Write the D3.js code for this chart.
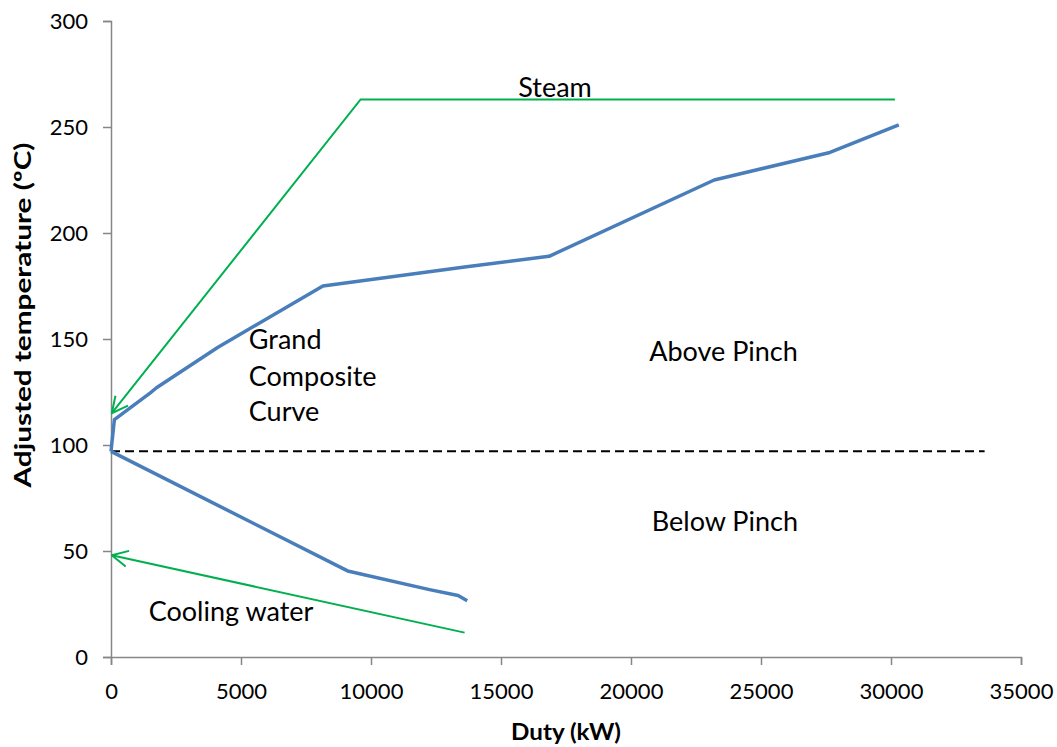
<!DOCTYPE html>
<html><head><meta charset="utf-8">
<script src="https://cdn.jsdelivr.net/npm/d3@7"></script>
<style>body{margin:0;background:#fff}</style>
</head><body><svg id="c" width="1057" height="747"></svg>
<script>
// Grand composite curve above pinch [duty kW, adjusted temperature °C]
const gccAbove = [[0,97],[130,112],[1500,124.5],[1750,127],[4100,146],[8150,175],[13600,184],[16850,189],[23200,225],[27650,238],[30300,251]];
// Grand composite curve below pinch
const gccBelow = [[0,97],[9100,40.6],[12250,31.8],[13350,29],[13700,26.5]];
// Steam utility line (arrow pointing to the curve)
const steam = [[30150,263],[9600,263],[30,115]];
// Cooling water utility line
const cooling = [[13600,11.5],[30,48]];
const pinchT = 97;
const pinchEnd = 33600;
const xTicks = [0,5000,10000,15000,20000,25000,30000,35000];
const yTicks = [0,50,100,150,200,250,300];
const labels = [
  {t:"Steam", x:17080, y:264.2, anchor:"middle"},
  {t:"Grand", x:5300, y:145.3},
  {t:"Composite", x:5300, y:127.8},
  {t:"Curve", x:5300, y:111.3},
  {t:"Above Pinch", x:20700, y:139.6},
  {t:"Below Pinch", x:20800, y:59.4},
  {t:"Cooling water", x:1450, y:17}
];

const svg = d3.select("#c");
const x = d3.scaleLinear().domain([0,35000]).range([111,1021]);
const y = d3.scaleLinear().domain([0,300]).range([657,21]);
const font = "Lato, 'Open Sans', sans-serif";
const axisCol = "#868686";

// axes
const xa = svg.append("g").attr("transform","translate(0,657)").call(d3.axisBottom(x).tickValues(xTicks).tickSize(8).tickPadding(18).tickFormat(d3.format("d")));
const ya = svg.append("g").attr("transform","translate(111,0)").call(d3.axisLeft(y).tickValues(yTicks).tickSize(8).tickPadding(15));
[xa,ya].forEach(a=>{
  a.select(".domain").attr("stroke",axisCol).attr("stroke-width",1.5);
  a.selectAll(".tick line").attr("stroke",axisCol).attr("stroke-width",1.5);
  a.selectAll(".tick text").attr("fill","#000").style("font-family",font).style("font-size","22px");
});

// pinch line
svg.append("line").attr("x1",x(0)).attr("x2",x(pinchEnd)).attr("y1",y(pinchT)).attr("y2",y(pinchT))
  .attr("stroke","#000").attr("stroke-width",2).attr("stroke-dasharray","9,5");

const line = d3.line().x(d=>x(d[0])).y(d=>y(d[1]));
[gccAbove,gccBelow].forEach(d=>{
  svg.append("path").attr("d",line(d)).attr("fill","none").attr("stroke","#4a7ebb").attr("stroke-width",3.5).attr("stroke-linejoin","round");
});

// open arrow marker
svg.append("defs").append("marker").attr("id","arr").attr("viewBox","0 0 20 20").attr("refX",19).attr("refY",10)
  .attr("markerWidth",20).attr("markerHeight",20).attr("markerUnits","userSpaceOnUse").attr("orient","auto")
  .append("path").attr("d","M3,2 L19,10 L3,18").attr("fill","none").attr("stroke","#00b050").attr("stroke-width",2);

[steam,cooling].forEach(d=>{
  svg.append("path").attr("d",line(d)).attr("fill","none").attr("stroke","#00b050").attr("stroke-width",2)
    .attr("marker-end","url(#arr)");
});

labels.forEach(l=>{
  svg.append("text").attr("x",x(l.x)).attr("y",y(l.y)).attr("text-anchor",l.anchor||"start")
    .style("font-family",font).style("font-size","27px").attr("fill","#000").text(l.t);
});

svg.append("text").attr("x",566).attr("y",740).attr("text-anchor","middle").style("font-family",font)
  .style("font-weight","bold").style("font-size","23px").attr("textLength",110).attr("lengthAdjust","spacingAndGlyphs").text("Duty (kW)");
svg.append("text").attr("transform","translate(31,315) rotate(-90)").attr("text-anchor","middle").style("font-family",font)
  .style("font-weight","bold").style("font-size","23px").attr("textLength",345).attr("lengthAdjust","spacingAndGlyphs").text("Adjusted temperature (ºC)");
</script></body></html>
